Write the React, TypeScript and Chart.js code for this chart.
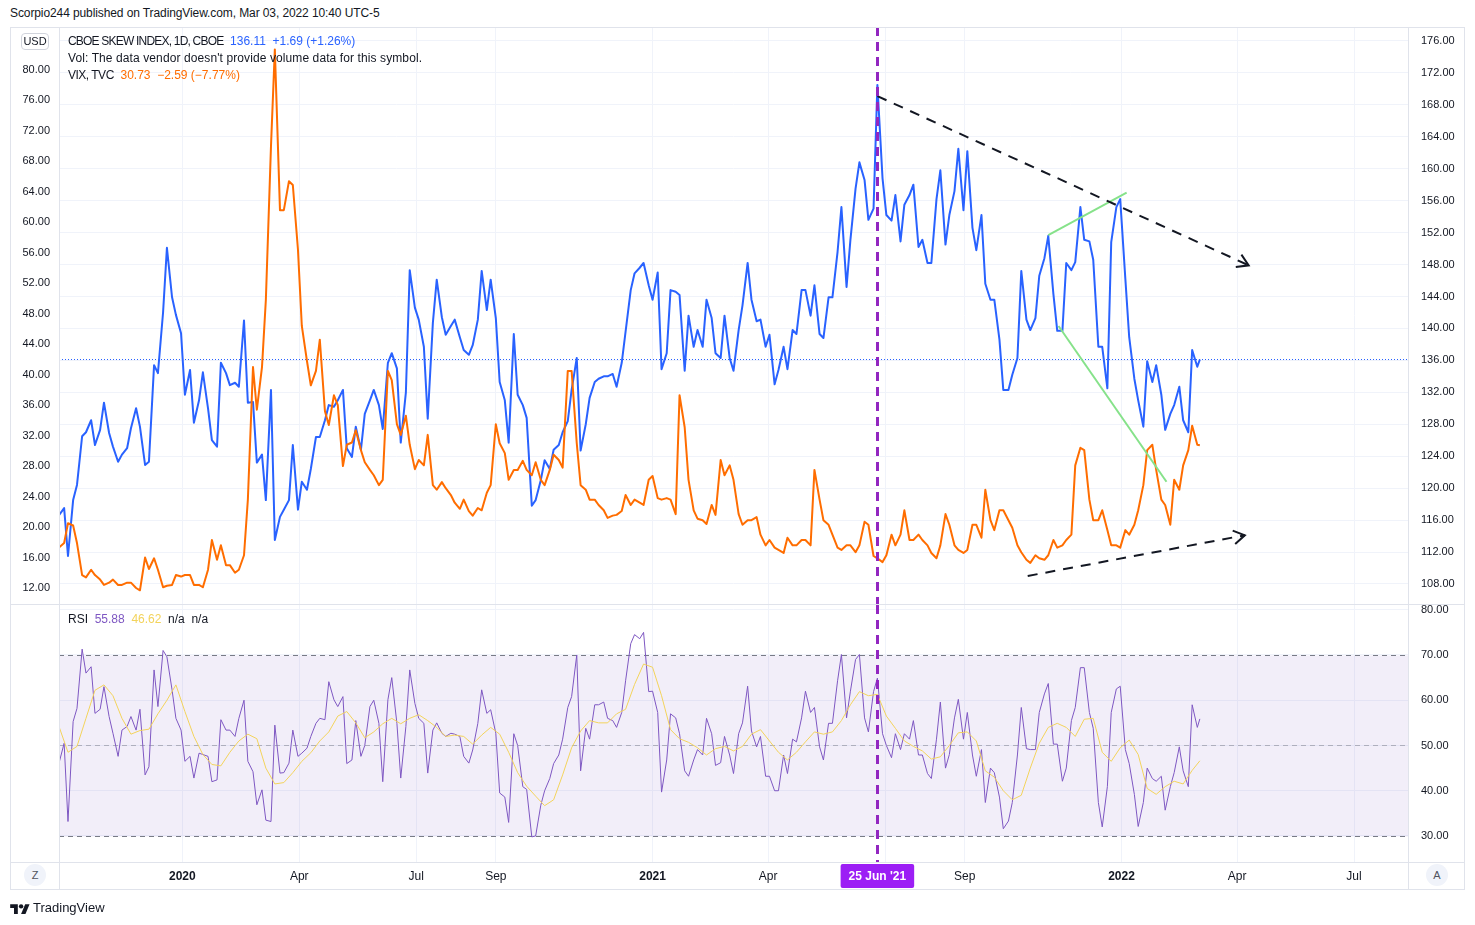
import React, { useEffect, useRef } from 'react';
import { Chart, registerables } from 'chart.js';

Chart.register(...registerables);

// ---------------- DATA ----------------
// weekly (Friday) samples
const dates = (
  '2019-09-27 2019-10-04 2019-10-11 2019-10-18 2019-10-25 2019-11-01 2019-11-08 2019-11-15 2019-11-22 2019-11-29 2019-12-06 2019-12-13 2019-12-20 2019-12-27 ' +
  '2020-01-03 2020-01-10 2020-01-17 2020-01-24 2020-01-31 2020-02-07 2020-02-14 2020-02-21 2020-02-28 2020-03-06 2020-03-13 2020-03-20 2020-03-27 ' +
  '2020-04-03 2020-04-10 2020-04-17 2020-04-24 2020-05-01 2020-05-08 2020-05-15 2020-05-22 2020-05-29 2020-06-05 2020-06-12 2020-06-19 2020-06-26 ' +
  '2020-07-03 2020-07-10 2020-07-17 2020-07-24 2020-07-31 2020-08-07 2020-08-14 2020-08-21 2020-08-28 2020-09-04 2020-09-11 2020-09-18 2020-09-25 ' +
  '2020-10-02 2020-10-09 2020-10-16 2020-10-23 2020-10-30 2020-11-06 2020-11-13 2020-11-20 2020-11-27 2020-12-04 2020-12-11 2020-12-18 2020-12-25 ' +
  '2021-01-01 2021-01-08 2021-01-15 2021-01-22 2021-01-29 2021-02-05 2021-02-12 2021-02-19 2021-02-26 2021-03-05 2021-03-12 2021-03-19 2021-03-26 ' +
  '2021-04-02 2021-04-09 2021-04-16 2021-04-23 2021-04-30 2021-05-07 2021-05-14 2021-05-21 2021-05-28 2021-06-04 2021-06-11 2021-06-18 2021-06-25 ' +
  '2021-07-02 2021-07-09 2021-07-16 2021-07-23 2021-07-30 2021-08-06 2021-08-13 2021-08-20 2021-08-27 2021-09-03 2021-09-10 2021-09-17 2021-09-24 ' +
  '2021-10-01 2021-10-08 2021-10-15 2021-10-22 2021-10-29 2021-11-05 2021-11-12 2021-11-19 2021-11-26 2021-12-03 2021-12-10 2021-12-17 2021-12-24 2021-12-31 ' +
  '2022-01-07 2022-01-14 2022-01-21 2022-01-28 2022-02-04 2022-02-11 2022-02-18 2022-02-25 2022-03-03'
).split(' ');

// mid-week (Tuesday) samples
const midDates = (
  '2019-10-01 2019-10-08 2019-10-15 2019-10-22 2019-10-29 2019-11-05 2019-11-12 2019-11-19 2019-11-26 2019-12-03 2019-12-10 2019-12-17 2019-12-24 2019-12-31 ' +
  '2020-01-07 2020-01-14 2020-01-21 2020-01-28 2020-02-04 2020-02-11 2020-02-18 2020-02-25 2020-03-03 2020-03-10 2020-03-17 2020-03-24 2020-03-31 ' +
  '2020-04-07 2020-04-14 2020-04-21 2020-04-28 2020-05-05 2020-05-12 2020-05-19 2020-05-26 2020-06-02 2020-06-09 2020-06-16 2020-06-23 2020-06-30 ' +
  '2020-07-07 2020-07-14 2020-07-21 2020-07-28 2020-08-04 2020-08-11 2020-08-18 2020-08-25 2020-09-01 2020-09-08 2020-09-15 2020-09-22 2020-09-29 ' +
  '2020-10-06 2020-10-13 2020-10-20 2020-10-27 2020-11-03 2020-11-10 2020-11-17 2020-11-24 2020-12-01 2020-12-08 2020-12-15 2020-12-22 2020-12-29 ' +
  '2021-01-05 2021-01-12 2021-01-19 2021-01-26 2021-02-02 2021-02-09 2021-02-16 2021-02-23 2021-03-02 2021-03-09 2021-03-16 2021-03-23 2021-03-30 ' +
  '2021-04-06 2021-04-13 2021-04-20 2021-04-27 2021-05-04 2021-05-11 2021-05-18 2021-05-25 2021-06-01 2021-06-08 2021-06-15 2021-06-22 2021-06-29 ' +
  '2021-07-06 2021-07-13 2021-07-20 2021-07-27 2021-08-03 2021-08-10 2021-08-17 2021-08-24 2021-08-31 2021-09-07 2021-09-14 2021-09-21 2021-09-28 ' +
  '2021-10-05 2021-10-12 2021-10-19 2021-10-26 2021-11-02 2021-11-09 2021-11-16 2021-11-23 2021-11-30 2021-12-07 2021-12-14 2021-12-21 2021-12-28 2022-01-04 ' +
  '2022-01-11 2022-01-18 2022-01-25 2022-02-01 2022-02-08 2022-02-15 2022-02-22 2022-03-01'
).split(' ');

const skew = [
  116.6, 111.5, 120.4, 127.0, 125.4, 130.7, 125.2, 124.2, 127.5, 127.7,
  123.3, 134.4, 150.1, 141.7, 131.7, 128.2, 134.5, 126.0, 135.7, 132.9,
  132.7, 130.7, 123.2, 118.5, 113.5, 117.3, 125.4, 120.8, 122.4, 126.4,
  130.4, 131.0, 125.0, 127.7, 129.3, 132.3, 127.4, 136.9, 125.7, 147.3,
  141.1, 128.7, 146.1, 139.2, 141.1, 137.3, 137.9, 147.2, 146.1, 133.3,
  125.7, 131.7, 128.8, 118.5, 123.5, 124.8, 127.0, 132.3, 124.7, 131.3,
  133.7, 134.0, 132.7, 139.6, 146.9, 148.2, 143.6, 134.9, 144.8, 144.2,
  141.6, 139.8, 143.6, 136.9, 141.6, 134.7, 142.9, 143.6, 141.1, 139.2,
  134.8, 134.9, 139.3, 144.8, 145.4, 138.8, 143.9, 155.2, 151.1, 160.8,
  153.6, 170.5, 154.2, 156.7, 155.5, 158.0, 151.1, 148.2, 159.8, 154.2,
  162.5, 162.2, 149.8, 145.6, 143.6, 132.3, 134.2, 147.2, 139.8, 146.6,
  151.6, 139.7, 148.2, 148.3, 151.1, 148.6, 137.7, 150.8, 156.2, 138.9,
  131.0, 135.9, 135.4, 127.3, 130.4, 128.5, 137.3, 136.11,
];
const skewMid = [
  117.5, 118.5, 126.5, 128.5, 127.3, 126.9, 123.3, 125.0, 130.0, 122.9,
  135.4, 142.0, 143.9, 139.4, 134.8, 131.0, 130.0, 125.2, 134.4, 133.2,
  141.0, 130.8, 124.2, 132.3, 116.4, 118.5, 117.3, 119.8, 126.4, 128.5,
  130.2, 132.3, 123.9, 124.8, 131.0, 130.4, 135.7, 135.0, 132.0, 142.6,
  137.7, 140.7, 141.4, 140.3, 138.9, 136.7, 141.1, 142.3, 141.3, 131.0,
  139.3, 130.4, 117.8, 121.0, 122.4, 125.4, 128.4, 136.3, 128.0, 133.3,
  134.0, 134.3, 135.7, 144.8, 147.6, 145.4, 147.0, 136.9, 144.6, 134.7,
  137.7, 137.7, 141.3, 136.3, 136.3, 139.8, 148.2, 140.9, 137.7, 133.0,
  137.7, 139.8, 144.8, 141.6, 139.3, 143.9, 149.6, 145.2, 157.5, 158.6,
  155.0, 158.8, 153.5, 150.9, 156.7, 150.2, 148.2, 156.2, 150.5, 157.2,
  154.8, 152.6, 154.2, 143.6, 138.6, 132.3, 136.3, 141.1, 141.3, 148.8,
  144.3, 139.7, 147.3, 155.2, 150.9, 137.7, 132.5, 155.2, 146.2, 133.7,
  127.7, 133.3, 131.7, 129.3, 132.7, 127.0, 135.2,
];

const vix = [
  17.3, 20.5, 17.9, 13.4, 13.7, 12.4, 13.1, 12.4, 12.7, 11.7,
  14.5, 14.4, 12.3, 13.7, 13.7, 12.4, 12.1, 18.3, 17.6, 15.0,
  14.4, 23.6, 35.4, 49.8, 82.7, 61.6, 64.9, 46.4, 38.6, 44.6,
  33.4, 36.0, 30.8, 32.7, 28.5, 26.8, 26.2, 39.3, 32.1, 30.8,
  28.8, 32.1, 24.9, 25.1, 23.2, 23.6, 21.5, 22.2, 25.5, 31.0,
  26.2, 27.5, 27.5, 28.5, 25.5, 29.5, 27.8, 40.5, 25.5, 23.6,
  22.9, 21.2, 21.6, 24.2, 23.6, 22.9, 26.7, 23.6, 23.6, 37.3,
  26.2, 21.1, 20.4, 21.6, 26.8, 26.2, 20.3, 20.9, 19.0, 18.3,
  17.0, 18.6, 17.6, 18.3, 27.5, 20.9, 19.0, 17.0, 17.6, 17.6,
  20.3, 15.9, 16.3, 17.6, 22.2, 18.3, 18.3, 16.6, 17.6, 20.3,
  17.0, 17.0, 20.3, 24.9, 19.6, 22.2, 19.9, 16.7, 15.3, 15.9,
  16.3, 17.3, 18.3, 28.1, 30.1, 20.9, 22.2, 17.6, 17.3, 19.0,
  22.2, 30.1, 27.5, 22.9, 26.2, 28.1, 33.3, 30.73,
];
const vixMid = [
  17.9, 20.2, 13.7, 14.4, 13.1, 12.7, 12.4, 12.7, 12.0, 16.0,
  15.9, 12.1, 12.4, 13.5, 13.7, 12.4, 14.4, 15.7, 15.0, 14.0,
  16.3, 41.0, 41.0, 70.0, 61.6, 65.4, 56.4, 41.8, 40.5, 35.2,
  37.3, 28.0, 31.1, 30.1, 27.5, 25.5, 40.5, 33.5, 34.6, 27.6,
  28.1, 25.5, 25.9, 24.2, 22.4, 22.1, 22.5, 24.5, 33.5, 29.7,
  27.5, 28.7, 26.8, 26.2, 27.5, 28.8, 40.5, 31.0, 24.9, 23.6,
  22.2, 21.5, 22.1, 22.9, 23.2, 26.2, 23.8, 23.8, 21.7, 33.1,
  22.2, 20.9, 22.9, 28.8, 28.1, 21.7, 20.9, 21.3, 17.6, 17.3,
  16.6, 17.6, 18.3, 17.6, 23.6, 20.3, 17.3, 17.6, 16.7, 20.7,
  16.2, 15.4, 19.0, 19.0, 18.3, 19.0, 17.6, 15.9, 21.7, 17.6,
  16.6, 20.3, 18.6, 20.9, 22.2, 20.9, 17.6, 15.7, 16.3, 15.7,
  18.3, 17.6, 19.0, 30.4, 23.6, 20.9, 19.6, 17.6, 19.6, 20.3,
  25.5, 30.8, 23.6, 20.3, 24.9, 30.1, 30.8,
];

const rsi = [
  46.1, 33.2, 58.2, 66.0, 57.1, 63.0, 52.7, 53.4, 56.4, 58.0,
  45.3, 58.6, 69.6, 56.0, 46.5, 42.8, 48.0, 42.0, 55.7, 53.4,
  56.0, 46.5, 36.9, 33.5, 54.5, 44.0, 53.4, 48.3, 52.0, 56.0,
  64.1, 58.6, 46.0, 55.5, 50.0, 60.0, 42.0, 65.0, 42.8, 66.7,
  56.0, 43.9, 55.0, 52.0, 52.5, 47.6, 49.0, 62.3, 57.9, 39.5,
  33.0, 50.0, 40.3, 30.0, 40.0, 46.0, 51.4, 60.8, 44.4, 51.4,
  59.0, 56.0, 54.0, 64.3, 74.5, 75.0, 62.0, 39.7, 57.0, 52.6,
  43.2, 49.1, 56.0, 45.6, 52.0, 43.8, 55.0, 53.2, 52.0, 43.2,
  40.0, 43.8, 50.8, 62.0, 58.4, 46.8, 54.9, 70.1, 62.0, 70.1,
  53.0, 64.9, 50.0, 52.6, 52.6, 55.5, 47.9, 42.7, 59.6, 48.0,
  60.2, 57.3, 43.2, 37.4, 44.0, 31.6, 37.4, 58.4, 49.1, 57.3,
  63.7, 50.3, 45.0, 58.4, 67.2, 53.8, 32.0, 57.3, 63.1, 46.0,
  32.1, 45.0, 42.1, 35.7, 44.0, 44.4, 59.0, 55.88,
];
const rsiMid = [
  50.5, 55.3, 71.3, 67.4, 58.0, 56.4, 47.6, 54.2, 53.4, 43.5,
  66.7, 71.0, 62.3, 53.4, 47.6, 48.3, 47.6, 42.4, 53.4, 52.0,
  60.0, 44.2, 40.2, 33.2, 43.9, 46.1, 47.6, 49.4, 54.9, 55.7,
  60.1, 60.8, 46.8, 47.6, 58.6, 54.9, 60.1, 54.9, 54.2, 59.3,
  54.9, 53.4, 52.7, 52.7, 52.0, 46.1, 54.9, 57.1, 52.7, 38.6,
  52.6, 40.9, 29.8, 36.8, 42.7, 47.9, 58.4, 70.0, 53.8, 59.0,
  59.6, 55.5, 57.3, 72.5, 73.6, 61.9, 57.3, 46.8, 56.1, 44.4,
  46.8, 47.9, 52.6, 46.2, 47.9, 52.6, 63.1, 49.7, 43.2, 40.0,
  47.9, 51.4, 56.1, 57.3, 49.7, 54.9, 64.3, 56.1, 69.0, 56.1,
  61.9, 52.6, 47.3, 49.1, 51.4, 47.9, 43.8, 51.4, 45.0, 56.1,
  51.4, 47.9, 49.1, 45.0, 38.6, 33.3, 47.9, 49.3, 49.1, 61.4,
  50.3, 42.1, 55.5, 67.2, 57.3, 37.4, 40.9, 62.5, 49.1, 39.2,
  37.4, 42.7, 43.2, 40.9, 49.7, 40.9, 54.0,
];

const rsiMa = [
  54.2, 48.5, 49.8, 56.0, 62.2, 63.4, 61.0, 56.0, 52.5, 53.3,
  53.6, 57.0, 60.0, 63.4, 57.5, 52.0, 48.0, 45.8, 45.5, 48.5,
  51.0, 52.5, 51.5, 45.0, 41.5, 41.8, 44.0, 46.5, 48.4, 51.0,
  53.0, 56.5, 57.5, 55.0, 51.7, 53.0, 54.8, 56.0, 54.8, 56.0,
  56.8, 55.5, 54.0, 52.0, 52.3, 52.0, 50.3, 52.3, 54.0, 52.5,
  48.5, 44.0, 41.0, 38.8, 36.7, 38.0, 43.5, 49.5, 53.2, 55.5,
  55.0, 55.0, 57.0, 58.0, 63.5, 68.0, 67.3, 61.0, 53.5, 51.5,
  50.7, 49.5, 47.9, 49.3, 49.8, 48.8, 49.8, 52.5, 53.5, 51.0,
  48.5, 46.8, 48.5, 50.8, 53.0, 52.5, 53.0, 55.5, 59.0, 61.9,
  61.0, 61.3, 56.5, 53.8, 51.0, 49.8, 48.8, 47.0, 47.5, 50.0,
  52.8, 53.0, 51.0, 44.4, 43.0, 40.0, 38.0, 39.0, 45.0, 50.5,
  54.0, 54.9, 54.0, 52.0, 55.8, 56.0, 48.5, 46.5, 49.5, 51.2,
  48.0, 40.5, 39.2, 40.9, 42.1, 41.5, 44.5, 46.62,
];

const xTickDates = ['2020-01-01', '2020-04-01', '2020-07-01', '2020-09-01', '2021-01-01', '2021-04-01', '2021-07-01', '2021-09-01', '2022-01-01', '2022-04-01', '2022-07-01'];
const xTickLabels = ['2020', 'Apr', 'Jul', 'Sep', '2021', 'Apr', '', 'Sep', '2022', 'Apr', 'Jul'];
const skewTicks = [108, 112, 116, 120, 124, 128, 132, 136, 140, 144, 148, 152, 156, 160, 164, 168, 172, 176];
const vixTicks = [12, 16, 20, 24, 28, 32, 36, 40, 44, 48, 52, 56, 60, 64, 68, 72, 76, 80];
const rsiTicks = [30, 40, 50, 60, 70, 80];
const rsiBands = { upper: 70, middle: 50, lower: 30 };

const xRange = { min: '2019-09-27', max: '2022-08-12' };
const skewRange = { min: 105.49, max: 177.75 };
const vixRange = { min: 9.9, max: 85.64 };
const rsiRange = { min: 24.25, max: 81.05 };

const markerDate = '2021-06-25';
const markerLabel = "25 Jun '21";
const lastSkew = 136.11;

// drawings (date, SKEW-scale value)
const dashedTrendFrom = [['2021-06-25', 169.1], ['2021-10-20', 109.0]];
const dashedTrendTo = [['2022-04-10', 147.9], ['2022-04-07', 114.1]];
const greenLineFrom = [['2021-11-05', 151.7], ['2021-11-13', 140.3]];
const greenLineTo = [['2022-01-05', 157.0], ['2022-02-05', 120.8]];

// ---------------- STYLE ----------------
const FONT = "'Liberation Sans', Arial, sans-serif";
const TEXT = '#131722';
const GRID = '#f0f3fa';
const FRAME = '#e0e3eb';
const BLUE = '#2962ff';
const ORANGE = '#ff6d00';
const PURPLE = '#7e57c2';
const YELLOW = '#f3d35b';
const MARKER = '#9226c0';
const MARKER_BOX = '#9c1ef5';

const tx = (d: string) => Date.parse(d);
const merged = (wk: number[], mid: number[]) =>
  [
    ...dates.map((d, i) => ({ x: tx(d), y: wk[i] })),
    ...midDates.map((d, i) => ({ x: tx(d), y: mid[i] })),
  ].sort((a, b) => a.x - b.x);
const weekly = (vals: number[]) => dates.map((d, i) => ({ x: tx(d), y: vals[i] }));
const seg = (a: any[], b: any[]) => [{ x: tx(a[0]), y: a[1] }, { x: tx(b[0]), y: b[1] }];

const fixW = (w: number) => (s: any) => {
  s.width = w;
  s.paddingTop = 0;
  s.paddingBottom = 0;
};
const fixH = (h: number) => (s: any) => {
  s.height = h;
  s.paddingLeft = 0;
  s.paddingRight = 0;
};
const setTicks = (vals: number[]) => (s: any) => {
  s.ticks = vals.map((v) => ({ value: v }));
};

function drawMarkerLine(chart: any) {
  const { ctx, chartArea: a, scales } = chart;
  const x = Math.round(scales.x.getPixelForValue(tx(markerDate))) + 0.5;
  ctx.save();
  ctx.strokeStyle = MARKER;
  ctx.lineWidth = 3;
  ctx.setLineDash([9, 6]);
  ctx.beginPath();
  ctx.moveTo(x, a.top);
  ctx.lineTo(x, a.bottom);
  ctx.stroke();
  ctx.restore();
}

const topPlugin = {
  id: 'topDecor',
  beforeDatasetsDraw(chart: any) {
    const { ctx, chartArea: a, scales } = chart;
    const y = Math.round(scales.yR.getPixelForValue(lastSkew)) + 0.5;
    ctx.save();
    ctx.strokeStyle = BLUE;
    ctx.lineWidth = 1;
    ctx.setLineDash([1, 2]);
    ctx.beginPath();
    ctx.moveTo(a.left, y);
    ctx.lineTo(a.right, y);
    ctx.stroke();
    ctx.restore();
  },
  afterDatasetsDraw(chart: any) {
    const { ctx, scales } = chart;
    ctx.save();
    ctx.strokeStyle = TEXT;
    ctx.lineWidth = 2;
    ctx.setLineDash([]);
    dashedTrendFrom.forEach((f, i) => {
      const t = dashedTrendTo[i];
      const x0 = scales.x.getPixelForValue(tx(f[0] as string));
      const y0 = scales.yR.getPixelForValue(f[1]);
      const x1 = scales.x.getPixelForValue(tx(t[0] as string));
      const y1 = scales.yR.getPixelForValue(t[1]);
      const ang = Math.atan2(y1 - y0, x1 - x0);
      const L = 13;
      ctx.beginPath();
      ctx.moveTo(x1 - L * Math.cos(ang - 0.55), y1 - L * Math.sin(ang - 0.55));
      ctx.lineTo(x1, y1);
      ctx.lineTo(x1 - L * Math.cos(ang + 0.55), y1 - L * Math.sin(ang + 0.55));
      ctx.stroke();
    });
    ctx.restore();
    drawMarkerLine(chart);
  },
};

const rsiPlugin = {
  id: 'rsiDecor',
  beforeDatasetsDraw(chart: any) {
    const { ctx, chartArea: a, scales } = chart;
    const yU = Math.round(scales.y.getPixelForValue(rsiBands.upper)) + 0.5;
    const yM = Math.round(scales.y.getPixelForValue(rsiBands.middle)) + 0.5;
    const yL = Math.round(scales.y.getPixelForValue(rsiBands.lower)) + 0.5;
    ctx.save();
    ctx.fillStyle = 'rgba(126, 87, 194, 0.1)';
    ctx.fillRect(a.left, yU, a.right - a.left, yL - yU);
    ctx.lineWidth = 1;
    ctx.setLineDash([5, 4]);
    ctx.strokeStyle = '#787b86';
    [yU, yL].forEach((y) => {
      ctx.beginPath();
      ctx.moveTo(a.left, y);
      ctx.lineTo(a.right, y);
      ctx.stroke();
    });
    ctx.strokeStyle = 'rgba(120, 123, 134, 0.5)';
    ctx.beginPath();
    ctx.moveTo(a.left, yM);
    ctx.lineTo(a.right, yM);
    ctx.stroke();
    ctx.restore();
  },
  afterDatasetsDraw(chart: any) {
    drawMarkerLine(chart);
  },
  afterDraw(chart: any) {
    const { ctx, chartArea: a, scales } = chart;
    const x = scales.x.getPixelForValue(tx(markerDate));
    ctx.save();
    ctx.font = `bold 12px ${FONT}`;
    const w = ctx.measureText(markerLabel).width + 16;
    ctx.fillStyle = MARKER_BOX;
    ctx.beginPath();
    const bx = x - w / 2;
    const by = a.bottom + 2;
    const bh = 24;
    ctx.moveTo(bx + 2, by);
    ctx.lineTo(bx + w - 2, by);
    ctx.quadraticCurveTo(bx + w, by, bx + w, by + 2);
    ctx.lineTo(bx + w, by + bh - 2);
    ctx.quadraticCurveTo(bx + w, by + bh, bx + w - 2, by + bh);
    ctx.lineTo(bx + 2, by + bh);
    ctx.quadraticCurveTo(bx, by + bh, bx, by + bh - 2);
    ctx.lineTo(bx, by + 2);
    ctx.quadraticCurveTo(bx, by, bx + 2, by);
    ctx.fill();
    ctx.fillStyle = '#ffffff';
    ctx.textAlign = 'center';
    ctx.textBaseline = 'middle';
    ctx.fillText(markerLabel, x, by + bh / 2 + 1);
    ctx.restore();
  },
};

const tickFont = { family: FONT, size: 11 };

function topConfig(): any {
  return {
    type: 'line',
    data: {
      datasets: [
        ...dashedTrendFrom.map((f, i) => ({
          data: seg(f, dashedTrendTo[i]), yAxisID: 'yR', borderColor: TEXT, borderWidth: 2,
          borderDash: [10, 8], pointRadius: 0, order: 0,
        })),
        ...greenLineFrom.map((f, i) => ({
          data: seg(f, greenLineTo[i]), yAxisID: 'yR', borderColor: '#86e28a', borderWidth: 2,
          pointRadius: 0, order: 0,
        })),
        { label: 'VIX', data: merged(vix, vixMid), yAxisID: 'yL', borderColor: ORANGE, borderWidth: 2, pointRadius: 0, order: 1 },
        { label: 'SKEW', data: merged(skew, skewMid), yAxisID: 'yR', borderColor: BLUE, borderWidth: 2, pointRadius: 0, order: 2 },
      ],
    },
    options: {
      animation: false,
      responsive: false,
      devicePixelRatio: 1,
      events: [],
      layout: { padding: 0 },
      plugins: { legend: { display: false }, tooltip: { enabled: false } },
      elements: { line: { tension: 0, borderJoinStyle: 'round' } },
      scales: {
        x: {
          type: 'linear', min: tx(xRange.min), max: tx(xRange.max),
          grid: { color: GRID, drawTicks: false }, border: { display: false },
          ticks: { display: false },
          afterBuildTicks: (s: any) => { s.ticks = xTickDates.map((d) => ({ value: tx(d) })); },
          afterFit: fixH(0),
        },
        yL: {
          type: 'linear', position: 'left', min: vixRange.min, max: vixRange.max,
          grid: { display: false, drawTicks: false }, border: { display: false },
          ticks: { color: TEXT, font: tickFont, padding: 9, callback: (v: number) => v.toFixed(2) },
          afterBuildTicks: setTicks(vixTicks),
          afterFit: fixW(49),
        },
        yR: {
          type: 'linear', position: 'right', min: skewRange.min, max: skewRange.max,
          grid: { color: GRID, drawTicks: false }, border: { display: false },
          ticks: { color: TEXT, font: tickFont, padding: 13, callback: (v: number) => v.toFixed(2) },
          afterBuildTicks: setTicks(skewTicks),
          afterFit: fixW(57),
        },
      },
    },
    plugins: [topPlugin],
  };
}

function rsiConfig(): any {
  return {
    type: 'line',
    data: {
      datasets: [
        { label: 'RSI-based MA', data: weekly(rsiMa), borderColor: YELLOW, borderWidth: 1, pointRadius: 0, order: 0 },
        { label: 'RSI', data: merged(rsi, rsiMid), borderColor: PURPLE, borderWidth: 1, pointRadius: 0, order: 1 },
      ],
    },
    options: {
      animation: false,
      responsive: false,
      devicePixelRatio: 1,
      events: [],
      layout: { padding: { left: 49, right: 0, top: 0, bottom: 0 } },
      plugins: { legend: { display: false }, tooltip: { enabled: false } },
      elements: { line: { tension: 0 } },
      scales: {
        x: {
          type: 'linear', min: tx(xRange.min), max: tx(xRange.max),
          grid: { color: GRID, drawTicks: false }, border: { display: false },
          ticks: {
            color: TEXT, autoSkip: false, maxRotation: 0, padding: 7,
            font: (c: any) => ({ family: FONT, size: 12, weight: /^\d{4}$/.test(xTickLabels[c.index] || '') ? 'bold' : 'normal' }),
            callback: (_v: number, i: number) => xTickLabels[i],
          },
          afterBuildTicks: (s: any) => { s.ticks = xTickDates.map((d) => ({ value: tx(d) })); },
          afterFit: fixH(27),
        },
        y: {
          type: 'linear', position: 'right', min: rsiRange.min, max: rsiRange.max,
          grid: { color: GRID, drawTicks: false }, border: { display: false },
          ticks: { color: TEXT, font: tickFont, padding: 13, callback: (v: number) => v.toFixed(2) },
          afterBuildTicks: setTicks(rsiTicks),
          afterFit: fixW(57),
        },
      },
    },
    plugins: [rsiPlugin],
  };
}

const abs = (s: React.CSSProperties): React.CSSProperties => ({ position: 'absolute', ...s });

export default function App() {
  const topRef = useRef<HTMLCanvasElement | null>(null);
  const rsiRef = useRef<HTMLCanvasElement | null>(null);

  useEffect(() => {
    if (!topRef.current || !rsiRef.current) return;
    const c1 = new Chart(topRef.current, topConfig());
    const c2 = new Chart(rsiRef.current, rsiConfig());
    return () => {
      c1.destroy();
      c2.destroy();
    };
  }, []);

  const legendLine: React.CSSProperties = { height: 17, lineHeight: '17px', whiteSpace: 'pre' };

  return (
    <div style={abs({ left: 0, top: 0, width: 1475, height: 925, background: '#ffffff', fontFamily: FONT, color: TEXT, overflow: 'hidden' })}>
      <div style={abs({ left: 10, top: 6, fontSize: 12, whiteSpace: 'pre', letterSpacing: -0.1 })}>
        Scorpio244 published on TradingView.com, Mar 03, 2022 10:40 UTC-5
      </div>

      <canvas ref={topRef} width={1455} height={577} style={abs({ left: 10, top: 27, width: 1455, height: 577 })} />
      <canvas ref={rsiRef} width={1455} height={284} style={abs({ left: 10, top: 605, width: 1455, height: 284 })} />

      {/* frame and separators */}
      <div style={abs({ left: 10, top: 27, width: 1455, height: 863, border: `1px solid ${FRAME}`, boxSizing: 'border-box', pointerEvents: 'none' })} />
      <div style={abs({ left: 59, top: 27, width: 1, height: 863, background: FRAME })} />
      <div style={abs({ left: 1408, top: 27, width: 1, height: 863, background: FRAME })} />
      <div style={abs({ left: 10, top: 604, width: 1455, height: 1, background: FRAME })} />
      <div style={abs({ left: 10, top: 862, width: 1455, height: 1, background: FRAME })} />

      {/* currency badge */}
      <div style={abs({ left: 21, top: 33, width: 28, height: 17, border: '1px solid #d1d4dc', borderRadius: 4, boxSizing: 'border-box', fontSize: 11, lineHeight: '15px', textAlign: 'center', background: '#fff' })}>USD</div>

      {/* main legend */}
      <div style={abs({ left: 68, top: 33, fontSize: 12 })}>
        <div style={legendLine}>
          <span style={{ letterSpacing: -0.8 }}>CBOE SKEW INDEX, 1D, CBOE</span>{'  '}
          <span style={{ color: BLUE }}>136.11  +1.69 (+1.26%)</span>
        </div>
        <div style={{ ...legendLine, letterSpacing: 0.1 }}>Vol: The data vendor doesn't provide volume data for this symbol.</div>
        <div style={legendLine}>
          <span style={{ letterSpacing: -0.5 }}>VIX, TVC</span>{'  '}
          <span style={{ color: ORANGE }}>30.73  −2.59 (−7.77%)</span>
        </div>
      </div>

      {/* RSI legend */}
      <div style={abs({ left: 68, top: 611, fontSize: 12, whiteSpace: 'pre', lineHeight: '17px' })}>
        RSI  <span style={{ color: PURPLE }}>55.88</span>  <span style={{ color: YELLOW }}>46.62</span>  n/a  n/a
      </div>

      {/* scale buttons */}
      <div style={abs({ left: 24, top: 864, width: 22, height: 22, borderRadius: 11, background: GRID, fontSize: 11, lineHeight: '22px', textAlign: 'center', color: '#50535e' })}>Z</div>
      <div style={abs({ left: 1426, top: 864, width: 22, height: 22, borderRadius: 11, background: GRID, fontSize: 11, lineHeight: '22px', textAlign: 'center', color: '#50535e' })}>A</div>

      {/* footer logo */}
      <svg style={abs({ left: 10, top: 902, width: 20, height: 12 })} viewBox="0 0 36 22">
        <path d="M14 22H7V11H0V4h14v18z" fill={TEXT} />
        <circle cx="20" cy="8" r="4" fill={TEXT} />
        <path d="M28 22h-8l7.5-18h8L28 22z" fill={TEXT} />
      </svg>
      <div style={abs({ left: 33, top: 899, fontSize: 13, lineHeight: '17px' })}>TradingView</div>
    </div>
  );
}
